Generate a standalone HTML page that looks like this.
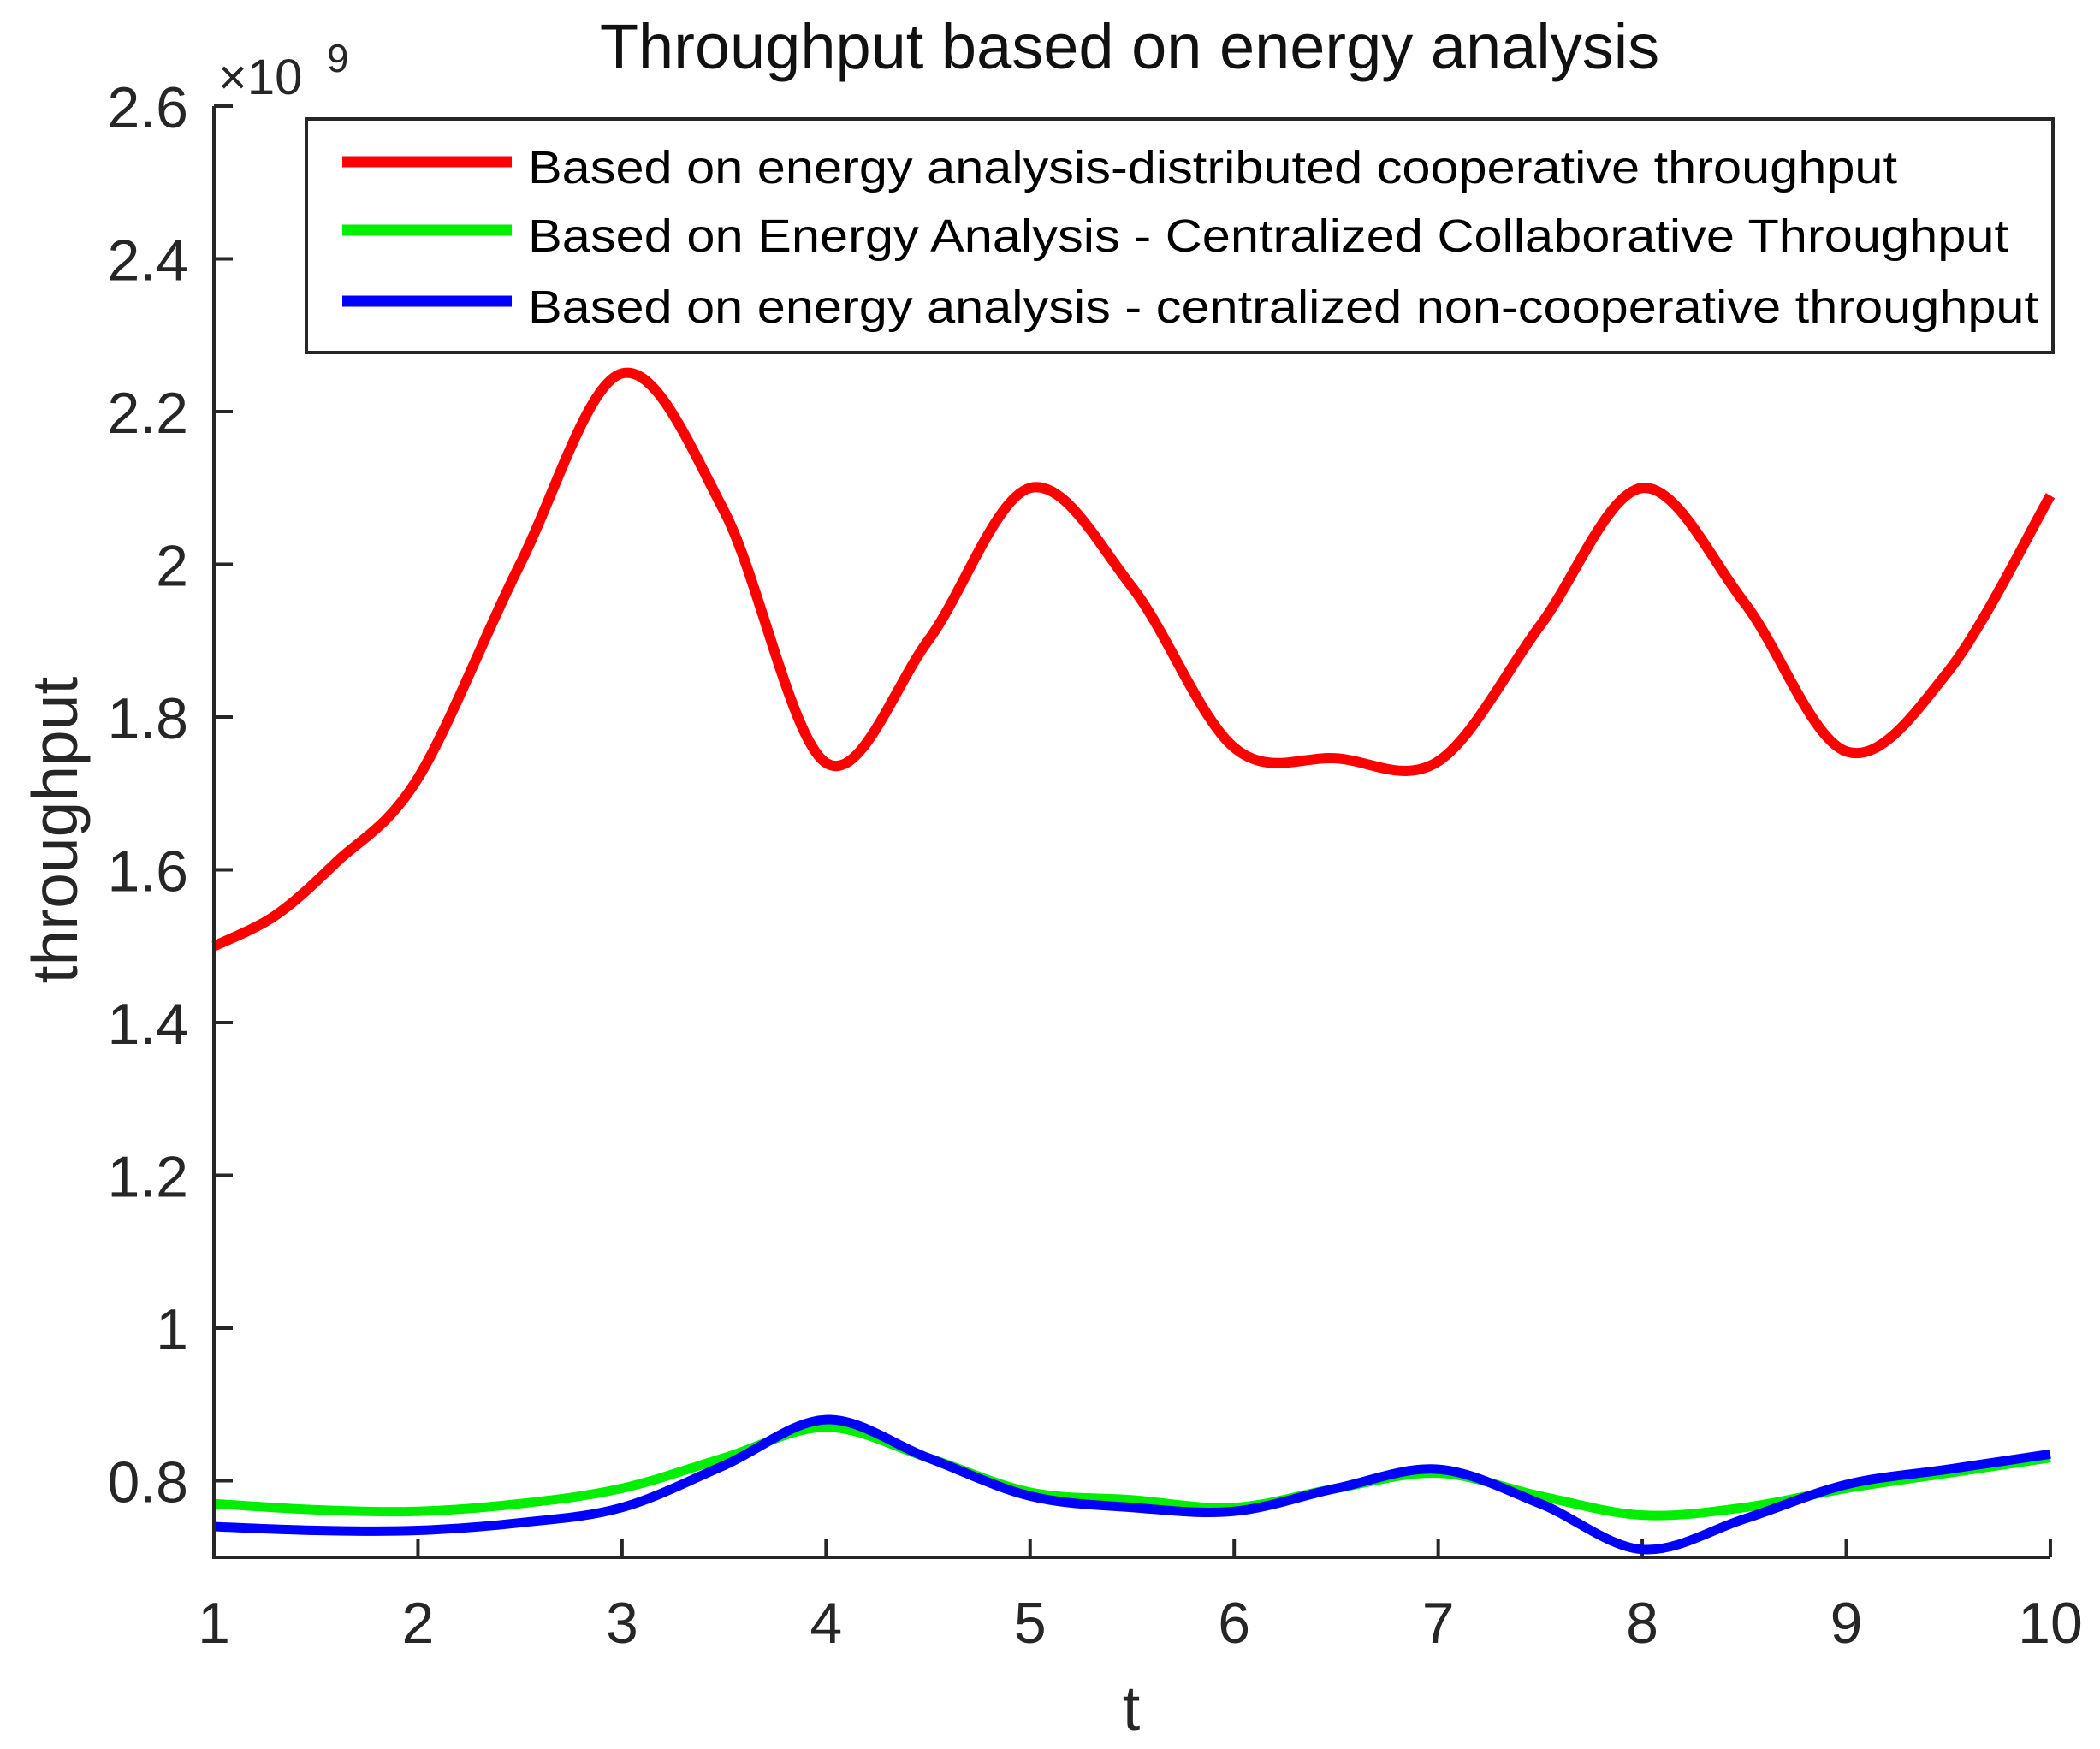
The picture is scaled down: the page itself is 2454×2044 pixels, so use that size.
<!DOCTYPE html>
<html><head><meta charset="utf-8"><style>
html,body{margin:0;padding:0;background:#fff;}
svg{display:block;}
text{font-family:"Liberation Sans",sans-serif;fill:#262626;}
</style></head><body>
<svg id="s" width="2454" height="2044" viewBox="0 0 2454 2044" xmlns="http://www.w3.org/2000/svg">
<rect width="2454" height="2044" fill="#fff"/>
<text x="1320" y="80" font-size="74" text-anchor="middle" style="fill:#111">Throughput based on energy analysis</text>
<text x="255" y="110" font-size="58">×10</text>
<text x="382" y="84" font-size="46">9</text>
<g id="ticks"></g>
<path id="red" fill="none" stroke="#ff0000" stroke-width="12" stroke-linejoin="round"/>
<path id="green" fill="none" stroke="#00ee00" stroke-width="11" stroke-linejoin="round"/>
<path id="blue" fill="none" stroke="#0000ff" stroke-width="11" stroke-linejoin="round"/>
<path d="M250 124 V1820 H2396" fill="none" stroke="#262626" stroke-width="4"/>
<rect x="358" y="139" width="2041" height="273" fill="#fff" stroke="#262626" stroke-width="4"/>
<line x1="400" y1="189" x2="598" y2="189" stroke="#ff0000" stroke-width="13"/>
<line x1="400" y1="269" x2="598" y2="269" stroke="#00ee00" stroke-width="13"/>
<line x1="400" y1="352" x2="598" y2="352" stroke="#0000ff" stroke-width="13"/>
<text x="617" y="214" font-size="54" textLength="1600" lengthAdjust="spacingAndGlyphs" style="fill:#000">Based on energy analysis-distributed cooperative throughput</text>
<text x="617" y="294" font-size="54" textLength="1730" lengthAdjust="spacingAndGlyphs" style="fill:#000">Based on Energy Analysis - Centralized Collaborative Throughput</text>
<text x="617" y="377" font-size="54" textLength="1765" lengthAdjust="spacingAndGlyphs" style="fill:#000">Based on energy analysis - centralized non-cooperative throughput</text>
<text x="1322" y="2022" font-size="74" text-anchor="middle">t</text>
<text transform="translate(90,970) rotate(-90)" font-size="75" text-anchor="middle">throughput</text>
</svg>
<script>
var NS="http://www.w3.org/2000/svg";
function X(t){return 250+(t-1)*238.44;}
function Y(v){return 124+(2.6-v)*892.5;}
var g=document.getElementById("ticks");
function add(tag,attrs,txt){var e=document.createElementNS(NS,tag);for(var k in attrs)e.setAttribute(k,attrs[k]);if(txt)e.textContent=txt;g.appendChild(e);}
var yt=[0.8,1,1.2,1.4,1.6,1.8,2,2.2,2.4,2.6];
yt.forEach(function(v){var y=Y(v);add("line",{x1:250,y1:y,x2:272,y2:y,stroke:"#262626","stroke-width":4});
add("text",{x:220,y:y+25,"font-size":68,"text-anchor":"end"},(v===1||v===2)?String(v):v.toFixed(1));});
for(var t=1;t<=10;t++){var x=X(t);add("line",{x1:x,y1:1820,x2:x,y2:1798,stroke:"#262626","stroke-width":4});
add("text",{x:x,y:1920,"font-size":68,"text-anchor":"middle"},String(t));}
function path(pts){var p=pts.map(function(a){return [X(a[0]),Y(a[1])];});
var d="M"+p[0][0]+" "+p[0][1];
for(var i=0;i<p.length-1;i++){var p0=p[i-1]||p[i],p1=p[i],p2=p[i+1],p3=p[i+2]||p2;
d+=" C"+(p1[0]+(p2[0]-p0[0])/6)+" "+(p1[1]+(p2[1]-p0[1])/6)+" "+(p2[0]-(p3[0]-p1[0])/6)+" "+(p2[1]-(p3[1]-p1[1])/6)+" "+p2[0]+" "+p2[1];}
return d;}
document.getElementById("red").setAttribute("d",path([[1,1.50],[1.3,1.54],[1.6,1.61],[2,1.72],[2.5,2.0],[3,2.25],[3.5,2.07],[4,1.74],[4.5,1.9],[5,2.1],[5.5,1.97],[6,1.76],[6.5,1.746],[7,1.742],[7.5,1.92],[8,2.1],[8.5,1.95],[9,1.755],[9.5,1.86],[10,2.09]]));
document.getElementById("green").setAttribute("d",path([[1,0.77],[1.5,0.762],[2,0.76],[2.5,0.77],[3,0.79],[3.5,0.83],[4,0.87],[4.5,0.83],[5,0.785],[5.5,0.775],[6,0.765],[6.5,0.79],[7,0.81],[7.5,0.78],[8,0.755],[8.5,0.765],[9,0.79],[9.5,0.81],[10,0.83]]));
document.getElementById("blue").setAttribute("d",path([[1,0.74],[1.5,0.735],[2,0.735],[2.5,0.745],[3,0.765],[3.5,0.82],[4,0.88],[4.5,0.83],[5,0.78],[5.5,0.765],[6,0.76],[6.5,0.79],[7,0.815],[7.5,0.77],[8,0.71],[8.5,0.75],[9,0.795],[9.5,0.815],[10,0.835]]));
</script>
</body></html>
